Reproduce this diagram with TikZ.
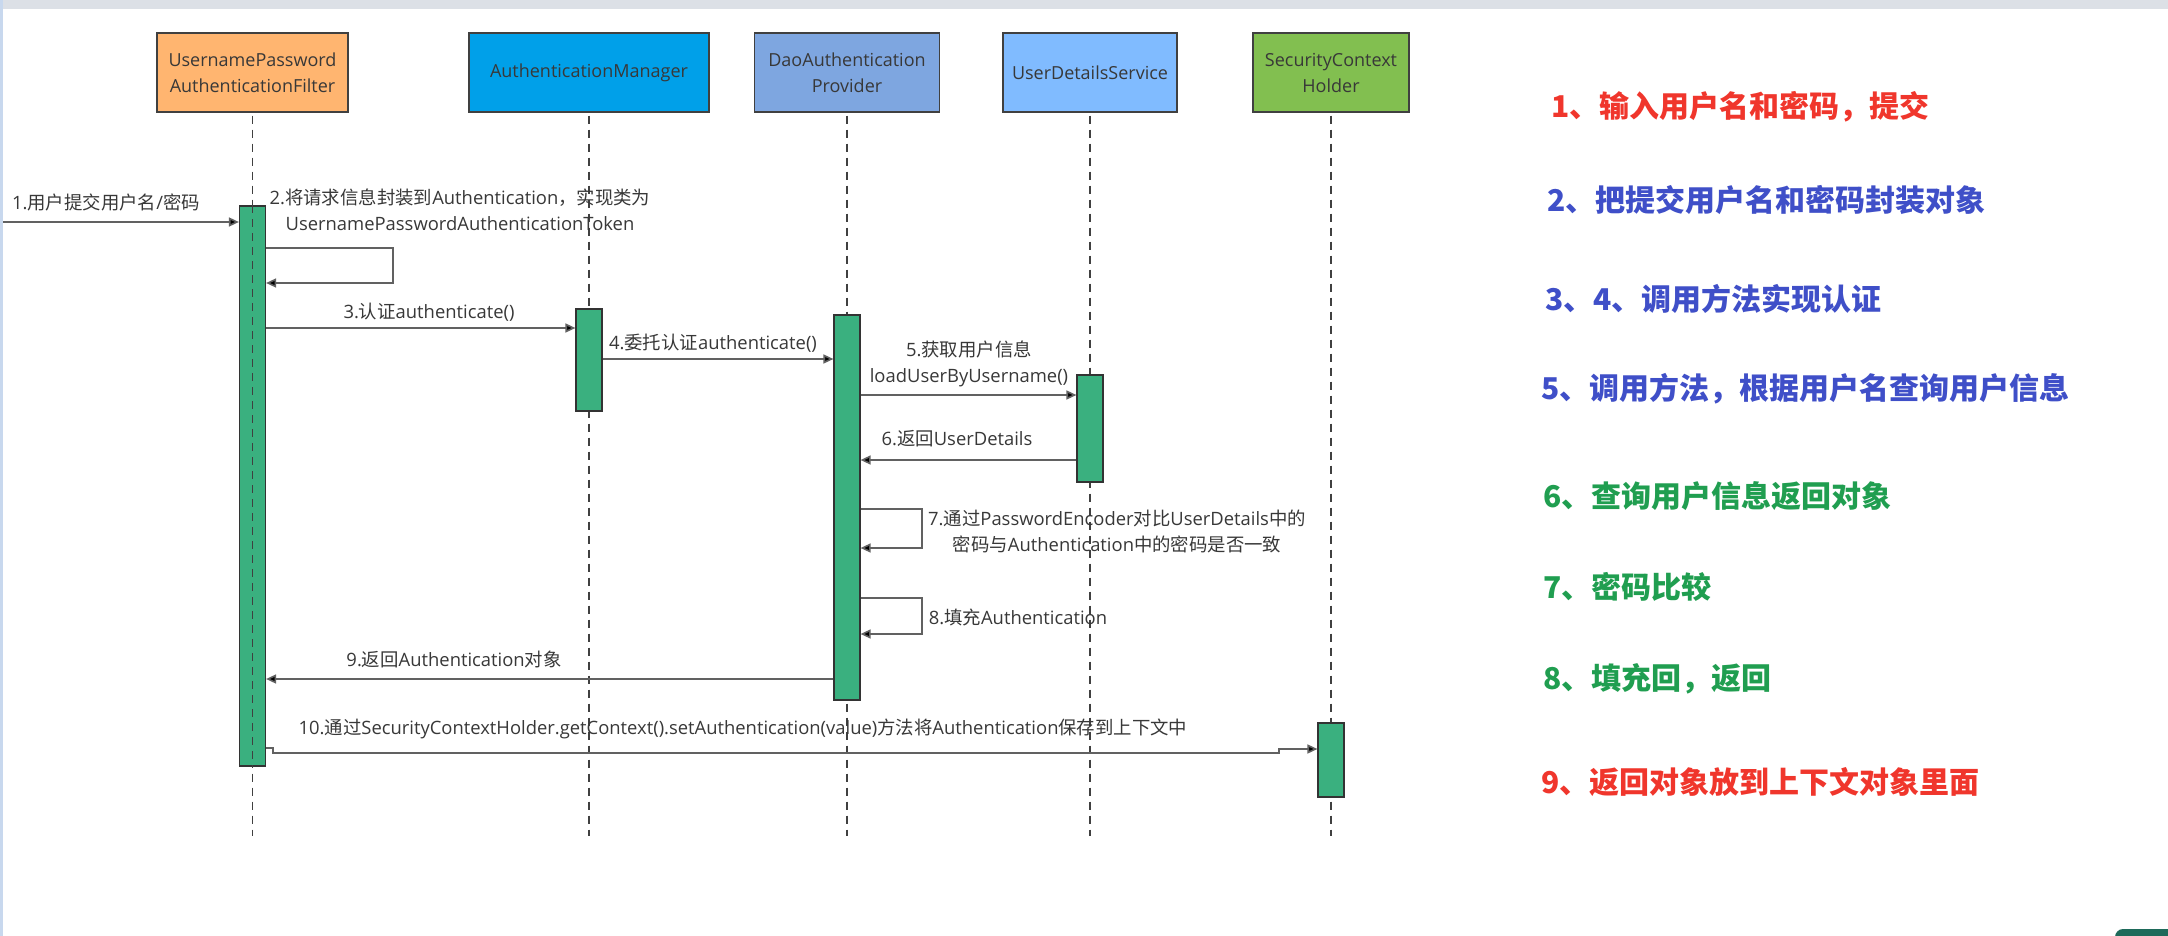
\documentclass[tikz,border=0pt]{standalone}
\usepackage{fontspec}
\setmainfont{Open Sans}
\newfontfamily\cjk{Noto Sans CJK SC}
\newcommand\zhs[1]{{\cjk #1}}
\usetikzlibrary{arrows.meta}
\definecolor{cfilter}{HTML}{FFB570}
\definecolor{cmanager}{HTML}{00A0E9}
\definecolor{cdao}{HTML}{7EA6E0}
\definecolor{cuds}{HTML}{80BBFF}
\definecolor{csch}{HTML}{82BF50}
\definecolor{cact}{HTML}{3AB07F}
\definecolor{cred}{HTML}{F0362C}
\definecolor{cblue}{HTML}{3F4FC8}
\definecolor{cgreen}{HTML}{209E50}
\definecolor{ctext}{HTML}{383838}
\definecolor{ctop}{HTML}{DCE0E6}
\definecolor{cleft}{HTML}{C8D8EE}
\definecolor{ccorner}{HTML}{1E6A5A}
\tikzset{
  head/.style={draw=black!75, line width=1.2pt, minimum height=79, inner sep=0, align=center,
    font=\fontsize{18}{26}\selectfont, text=ctext},
  act/.style={draw=black!80, line width=1.2pt, fill=cact, minimum width=26, inner sep=0},
  life/.style={draw=black!75, dash pattern=on 8pt off 6pt, line width=1.3pt},
  msg/.style={draw=black!62, line width=1.6pt, -{Triangle[length=10pt,width=9pt,fill=black]}},
  lbl/.style={font=\fontsize{18.4}{26}\selectfont, text=ctext, inner sep=0, align=center},
  note/.style={font=\cjk\bfseries\fontsize{30}{36}\selectfont, anchor=west, inner sep=0},
}
\begin{document}
\begin{tikzpicture}[x=1pt, y=-1pt]
\useasboundingbox (0,0) rectangle (2168,936);
\fill[white] (0,0) rectangle (2168,936);
\fill[ctop] (0,0) rectangle (2168,9);
\fill[cleft] (0,0) rectangle (3,936);
\begin{scope}
\clip (0,0) rectangle (2168,936);
\fill[ccorner, rounded corners=8pt] (2115,929) rectangle (2200,970);
\end{scope}

% headers
\node[head, fill=cfilter, minimum width=191] (h1) at (252.5,72.5) {UsernamePassword\\AuthenticationFilter};
\node[head, fill=cmanager, minimum width=240] (h2) at (589,72.5) {AuthenticationManager};
\node[head, fill=cdao, minimum width=185] (h3) at (847,72.5) {DaoAuthentication\\Provider};
\node[head, fill=cuds, minimum width=174] (h4) at (1090,72.5) {UserDetailsService};
\node[head, fill=csch, minimum width=156] (h5) at (1331,72.5) {SecurityContext\\Holder};

% lifelines
\coordinate (bot) at (0,836);
\draw[life] ([yshift=-3pt]h1.south) -- (h1.south |- bot);
\draw[life] ([yshift=-3pt]h2.south) -- (h2.south |- bot);
\draw[life] ([yshift=-3pt]h3.south) -- (h3.south |- bot);
\draw[life] ([yshift=-3pt]h4.south) -- (h4.south |- bot);
\draw[life] ([yshift=-3pt]h5.south) -- (h5.south |- bot);

% activations
\node[act, minimum height=560] (a1) at (252.5,486) {};
\node[act, minimum height=102] (a2) at (589,360) {};
\node[act, minimum height=385] (a3) at (847,507.5) {};
\node[act, minimum height=107] (a4) at (1090,428.5) {};
\node[act, minimum height=74] (a5) at (1331,760) {};
\draw[life] (a1.north) -- (a1.south);

% messages
\coordinate (m1s) at (3,222);
\draw[msg] (m1s) -- (m1s -| a1.west);
\node[lbl] (l1) at (106,202) {1.\zhs{用户提交用户名}/\zhs{密码}};

\draw[msg] (a1.east |- 0,248) -| (393,283) -- (a1.east |- 0,283);
\node[lbl] (l2) at (460,210) {2.\zhs{将请求信息封装到}Authentication\zhs{，实现类为}\\UsernamePasswordAuthenticationToken};

\draw[msg] (a1.east |- 0,328) -- (a2.west |- 0,328);
\node[lbl] (l3) at (429,312) {3.\zhs{认证}authenticate()};

\draw[msg] (a2.east |- 0,359) -- (a3.west |- 0,359);
\node[lbl] (l4) at (713,343) {4.\zhs{委托认证}authenticate()};

\draw[msg] (a3.east |- 0,395) -- (a4.west |- 0,395);
\node[lbl] (l5) at (969,364) {5.\zhs{获取用户信息}\\loadUserByUsername()};

\draw[msg] (a4.west |- 0,460) -- (a3.east |- 0,460);
\node[lbl] (l6) at (957,439) {6.\zhs{返回}UserDetails};

\draw[msg] (a3.east |- 0,509) -| (922,548) -- (a3.east |- 0,548);
\node[lbl] (l7) at (1117,531) {7.\zhs{通过}PasswordEncoder\zhs{对比}UserDetails\zhs{中的}\\\zhs{密码与}Authentication\zhs{中的密码是否一致}};

\draw[msg] (a3.east |- 0,598) -| (922,634) -- (a3.east |- 0,634);
\node[lbl] (l8) at (1018,617) {8.\zhs{填充}Authentication};

\draw[msg] (a3.west |- 0,679) -- (a1.east |- 0,679);
\node[lbl] (l9) at (454,659) {9.\zhs{返回}Authentication\zhs{对象}};

\draw[msg] (a1.east |- 0,748) -- (273,748) -- (273,753) -- (1279,753) -- (1279,749) -- (a5.west |- 0,749);
\node[lbl] (l10) at (743,729) {10.\zhs{通过}SecurityContextHolder.getContext().setAuthentication(value)\zhs{方法将}Authentication\zhs{保存到上下文中}};

% notes
\node[note, text=cred] (n1) at (1551,107) {1、输入用户名和密码，提交};
\node[note, text=cblue] (n2) at (1547,200) {2、把提交用户名和密码封装对象};
\node[note, text=cblue] (n3) at (1545,299) {3、4、调用方法实现认证};
\node[note, text=cblue] (n4) at (1541,389) {5、调用方法，根据用户名查询用户信息};
\node[note, text=cgreen] (n5) at (1543,496) {6、查询用户信息返回对象};
\node[note, text=cgreen] (n6) at (1543,587) {7、密码比较};
\node[note, text=cgreen] (n7) at (1543,679) {8、填充回，返回};
\node[note, text=cred] (n8) at (1541,782) {9、返回对象放到上下文对象里面};
\end{tikzpicture}
\end{document}
